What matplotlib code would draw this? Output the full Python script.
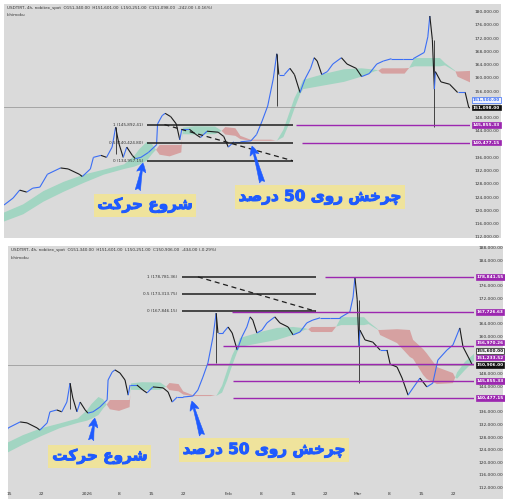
import numpy as np
import matplotlib
matplotlib.use('Agg')
import matplotlib.pyplot as plt
import matplotlib.patheffects as pe
from matplotlib.collections import LineCollection
from matplotlib.patches import Rectangle
from matplotlib.ticker import FuncFormatter

# ---- data (x = days from 1 Jan 2026) ----
price_day = [-25.8, -24.0, -22.7, -21.3, -20.1, -18.7, -17.2, -14.6, -13.1, -10.9,
             -10.3, -8.7, -8.1, -6.6, -5.5, -4.4, -3.7, -3.1, -2.2, -1.5,
             -0.4, 0.2, 1.3, 2.8, 4.4, 4.6, 5.5, 6.1, 7.2, 8.3,
             9.0, 9.4, 10.9, 12.2, 13.1, 14.4, 16.6, 17.7, 18.6, 19.7,
             21.0, 23.1, 24.2, 25.3, 26.4, 27.5, 28.2, 28.6, 29.7, 30.8,
             31.7, 32.8, 33.8, 34.9, 35.6, 36.2, 37.1, 38.2, 39.3, 41.0,
             42.1, 43.9, 45.0, 46.5, 48.0, 49.3, 50.9, 53.1, 55.2, 57.4,
             58.1, 58.5, 59.0, 59.4, 59.6, 60.7, 62.4, 64.0, 65.5, 66.2,
             67.7, 68.8, 70.1, 71.2, 72.7, 74.2, 75.5, 76.6, 78.6, 79.9,
             81.4, 82.1, 83.6, 84.1]
price_close = [121600, 123700, 126100, 125500, 126700, 127000, 130900, 132800, 132500, 130900,
               130200, 132500, 136000, 136600, 136000, 139100, 145100, 140400, 136000, 139100,
               136600, 135600, 136000, 137500, 139800, 146100, 148600, 149300, 148300, 146100,
               141300, 144500, 144500, 142900, 142000, 143900, 143600, 142300, 139100, 140700,
               140700, 141000, 142900, 147000, 151500, 159700, 167300, 161000, 161000, 162900,
               161000, 155600, 159700, 162900, 166100, 165100, 161000, 161900, 164200, 166100,
               164200, 162900, 160400, 161300, 164200, 165100, 165800, 165800, 165800, 167700,
               172400, 178700, 171500, 156600, 161900, 158800, 158100, 155600, 155600, 151100,
               150200, 146700, 141300, 143600, 146700, 143900, 145100, 152400, 155600, 157200,
               162600, 156600, 152400, 150906]

wick_day = [-3.7, 28.2, 59.4]
wick_low = [137000, 151500, 145170]
wick_high = [145100, 167300, 171500]

cloud_day = [-26, -22, -18, -14, -10, -6, -2, 0, 1, 2.5, 3.5, 4.3, 5, 7, 9.3, 9.6, 12, 16,
             17.3, 18, 20, 21, 23, 27, 28.3, 29.5, 30.6, 31.7, 32.8, 33.4, 37.8, 41.5, 45.0,
             47.6, 48.3, 49, 53.5, 54.4, 55.5, 60.5, 61.5, 63.5, 64.0, 67.7, 70.5, 71.2, 73.4,
             74.2, 76.4, 79.9, 80.4, 80.8, 82.5, 84.7]
span_a = [119200, 121800, 125800, 128600, 130800, 132300, 133900, 136500, 138500, 140700,
          140000, 138300, 136800, 136300, 137500, 145000, 145400, 145300, 144000, 142900,
          142500, 141500, 141000, 141000, 141200, 144300, 149100, 153900, 157200, 159400,
          161300, 162600, 162900, 162500, 162200, 161300, 161300, 163000, 166000, 166000,
          164500, 162200, 160350, 157800, 153400, 152800, 147700, 146400, 144800, 145100,
          146900, 148500, 151800, 154600]
span_b = [116500, 118800, 122600, 125600, 128300, 130800, 132500, 133200, 133800, 135000,
          137000, 138300, 139750, 139750, 139750, 143000, 142900, 143000, 144000, 145140,
          144800, 142500, 141340, 141340, 141100, 142100, 146000, 150700, 155000, 156600,
          157800, 158800, 160400, 162000, 162200, 162900, 162900, 163000, 163500, 163500,
          163800, 162000, 161940, 162200, 161940, 158800, 155900, 154500, 150200, 148300,
          146900, 146500, 149200, 152400]

fib_ratio = [1, 0.5, 0]
top_fib = [145892.41, 140424.80, 134957.15]
bottom_fib = [178781.36, 173313.75, 167846.15]

top_levels = [145855.33, 140477.15]
top_level_start = [32.0, 33.2]
bottom_levels = [178841.55, 167726.63, 156970.26, 151233.52, 145855.33, 140477.15]
bottom_level_start = [52.0, 31.7, 29.7, 26.2, 31.9, 31.9]

top_alert = 151500
top_last = 151098
bottom_alert = 155600
bottom_last = 150906

xtick_days = [-17, -10, 0, 7, 14, 21, 31, 38, 45, 52, 59, 66, 73, 80]
xtick_labels = ['15', '22', '2026', '8', '15', '22', 'Feb', '8', '15', '22', 'Mar', '8', '15', '22']

top_header = 'USDTIRT, 4h, nobitex_spot  O151,340.00  H151,601.00  L150,251.00  C151,098.00  -242.00 (-0.16%)'
bottom_header = 'USDTIRT, 4h, nobitex_spot  O151,340.00  H151,601.00  L150,251.00  C150,906.00  -434.00 (-0.29%)'
label_start = 'شروع حرکت'
label_turn = 'چرخش روی 50 درصد'

# ---- colours ----
BG = '#dadada'
UP = '#3b6ef5'
DOWN = '#1c1c1c'
GREEN = '#a2d5c2'
RED = '#d6a1a1'
PURPLE = '#9c27b0'
ARROW = '#1f5bff'
YELLOW = '#efe39c'
TXT = '#333333'

# minimal persian shaping (matplotlib has no arabic shaping)
FORMS = {  # isolated, final, initial, medial
    'ش': '\uFEB5\uFEB6\uFEB7\uFEB8', 'ر': '\uFEAD\uFEAE', 'و': '\uFEED\uFEEE',
    'ع': '\uFEC9\uFECA\uFECB\uFECC', 'ح': '\uFEA1\uFEA2\uFEA3\uFEA4',
    'ک': '\uFB8E\uFB8F\uFB90\uFB91', 'ت': '\uFE95\uFE96\uFE97\uFE98',
    'چ': '\uFB7A\uFB7B\uFB7C\uFB7D', 'خ': '\uFEA5\uFEA6\uFEA7\uFEA8',
    'ی': '\uFBFC\uFBFD\uFBFE\uFBFF', 'د': '\uFEA9\uFEAA', 'ص': '\uFEB9\uFEBA\uFEBB\uFEBC',
}


def shape_word(w):
    out = []
    for i, ch in enumerate(w):
        f = FORMS.get(ch)
        if f is None:
            out.append(ch)
            continue
        prev = w[i - 1] if i > 0 else None
        nxt = w[i + 1] if i + 1 < len(w) else None
        jp = prev in FORMS and len(FORMS[prev]) == 4
        jn = nxt in FORMS and len(f) == 4
        if jp and jn:
            out.append(f[3])
        elif jp:
            out.append(f[1])
        elif jn:
            out.append(f[2])
        else:
            out.append(f[0])
    return ''.join(reversed(out))


def fa(text):
    words = text.split(' ')
    return ' '.join(w if w.isdigit() else shape_word(w) for w in reversed(words))


W, H = 506, 499
fig = plt.figure(figsize=(W / 100, H / 100), dpi=100)
fig.patch.set_facecolor('white')


def px_rect(l, t, r, b):
    return [l / W, 1 - b / H, (r - l) / W, (b - t) / H]


def panel_bg(l, t, r, b):
    x, y, w, h = px_rect(l, t, r, b)
    fig.add_artist(Rectangle((x, y), w, h, transform=fig.transFigure, fc=BG, ec='none', zorder=0))


def tag(ax, y, text, fc, ec, tc, dy=0):
    ax.annotate(text, xy=(1, y), xycoords=ax.get_yaxis_transform(), xytext=(1.8, dy),
                textcoords='offset points', ha='left', va='center', fontsize=3.1, color=tc,
                fontweight='bold', bbox=dict(boxstyle='square,pad=0.2', fc=fc, ec=ec, lw=0.5),
                annotation_clip=False, zorder=6)


def draw_panel(ax, xlim, ylim, ytop, last_price, tag_values, header):
    ax.set_facecolor(BG)
    for s in ax.spines.values():
        s.set_visible(False)
    ax.set_xlim(*xlim)
    ax.set_ylim(*ylim)
    ax.yaxis.tick_right()
    # price labels hidden behind the coloured tags are left out, like on the chart
    ticks = [t for t in range(112000, ytop + 1, 4000) if all(abs(t - v) > 1700 for v in tag_values)]
    ax.set_yticks(ticks)
    ax.yaxis.set_major_formatter(FuncFormatter(lambda v, p: f'{v:,.2f}'))
    ax.tick_params(axis='y', length=0, pad=3, labelsize=3.2, colors=TXT)

    d = np.array(cloud_day)
    a = np.array(span_a)
    b = np.array(span_b)
    ax.fill_between(d, a, b, where=a >= b, interpolate=True, color=GREEN, lw=0, zorder=1)
    ax.fill_between(d, a, b, where=a < b, interpolate=True, color=RED, lw=0, zorder=1)

    ax.axhline(last_price, color='#9c9c9c', lw=0.6, zorder=1.5)

    ax.vlines(wick_day, wick_low, wick_high, color='#2a2a2a', lw=0.6, zorder=2)
    pts = np.column_stack([price_day, price_close])
    segs = np.stack([pts[:-1], pts[1:]], axis=1)
    cols = [UP if price_close[i + 1] >= price_close[i] else DOWN for i in range(len(price_close) - 1)]
    ax.add_collection(LineCollection(segs, colors=cols, linewidths=0.8, zorder=3))

    ax.text(0.006, 0.982, header, transform=ax.transAxes, fontsize=3.0, color=TXT, va='center')
    ax.text(0.006, 0.952, 'Ichimoku', transform=ax.transAxes, fontsize=3.0, color=TXT, va='center')


def draw_fib(ax, levels, start, end):
    ax.hlines(levels, start, end, color='#1e1e1e', lw=1.1, zorder=4)
    for r, v in zip(fib_ratio, levels):
        ax.annotate(f'{r} ({v:,.2f})', xy=(start, v), xytext=(-3, 0), textcoords='offset points',
                    ha='right', va='center', fontsize=3.0, color=TXT, zorder=4)
    ax.plot([start + (end - start) * 0.12, end], [levels[0], levels[-1]],
            color='#1e1e1e', lw=0.9, ls=(0, (4, 3)), zorder=4)


def draw_levels(ax, values, starts):
    right = ax.get_xlim()[1]
    for v, s in zip(values, starts):
        ax.hlines(v, s, right, color=PURPLE, lw=1.0, zorder=4)


def persian(ax, x, y, text):
    ax.text(x, y, fa(text), ha='center', va='center', fontsize=11, color=ARROW,
            fontweight='bold', family='DejaVu Sans', zorder=7,
            path_effects=[pe.withStroke(linewidth=0.7, foreground=ARROW)],
            bbox=dict(boxstyle='square,pad=0.25', fc=YELLOW, ec='none'))


def arrow(ax, tail, tip):
    ax.annotate('', xy=tip, xytext=tail, zorder=7,
                arrowprops=dict(arrowstyle='fancy,head_length=0.6,head_width=0.6,tail_width=0.35',
                                fc=ARROW, ec=ARROW, lw=0.4, mutation_scale=11,
                                shrinkA=0, shrinkB=0))


# ---- top screenshot ----
panel_bg(4, 4, 501, 238)
ax1 = fig.add_axes(px_rect(4, 4, 470, 238))
draw_panel(ax1, (-25.8, 66.45), (111635, 182330), 180000, top_last,
           [top_alert, top_last] + top_levels, top_header)
ax1.tick_params(axis='x', bottom=False, labelbottom=False)
draw_fib(ax1, top_fib, 2.5, 31.4)
draw_levels(ax1, top_levels, top_level_start)
tag(ax1, top_alert, f'{top_alert:,.2f}', '#eef2ff', UP, UP, dy=4.6)
tag(ax1, top_last, f'{top_last:,.2f}', '#111111', '#111111', 'white')
tag(ax1, top_levels[0], f'{top_levels[0]:,.2f}', PURPLE, PURPLE, 'white')
tag(ax1, top_levels[1], f'{top_levels[1]:,.2f}', PURPLE, PURPLE, 'white')
arrow(ax1, (0.7, 126100), (1.7, 134300))
arrow(ax1, (25.3, 128500), (23.3, 139400))
persian(ax1, 2.1, 121500, label_start)
persian(ax1, 36.7, 124000, label_turn)

# ---- bottom screenshot ----
panel_bg(8, 246, 503, 499)
ax2 = fig.add_axes(px_rect(8, 246, 474, 489))
draw_panel(ax2, (-17.25, 84.5), (111540, 188570), 188000, bottom_last,
           [bottom_alert, bottom_last] + bottom_levels, bottom_header)
ax2.set_xticks(xtick_days, xtick_labels)
ax2.tick_params(axis='x', length=0, pad=2.5, labelsize=3.2, colors=TXT)
draw_fib(ax2, bottom_fib, 20.7, 50.0)
draw_levels(ax2, bottom_levels, bottom_level_start)
# tags that sit too close are stacked apart, as the chart does
shifts = [0, 0, 2.2, 4.6, 0, 0]
for v, s in zip(bottom_levels, shifts):
    tag(ax2, v, f'{v:,.2f}', PURPLE, PURPLE, 'white', dy=s)
tag(ax2, bottom_alert, f'{bottom_alert:,.2f}', '#f4f4f4', '#111111', '#111111', dy=-0.6)
tag(ax2, bottom_last, f'{bottom_last:,.2f}', '#111111', '#111111', 'white')
arrow(ax2, (0.9, 127000), (1.7, 134000))
arrow(ax2, (25.1, 128600), (22.9, 139400))
persian(ax2, 2.8, 121800, label_start)
persian(ax2, 38.6, 123900, label_turn)

fig.savefig('out.png', dpi=100)
